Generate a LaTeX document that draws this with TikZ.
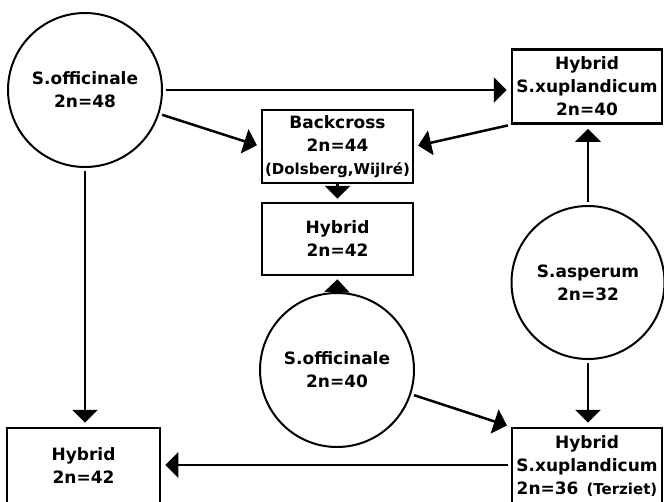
\documentclass[tikz,border=0pt]{standalone}
\usepackage{fontspec}
\setmainfont{DejaVu Sans}
\usetikzlibrary{arrows.meta}
\begin{document}
\begin{tikzpicture}[x=1pt,y=-1pt,
  lbl/.style={font=\fontsize{17}{23}\selectfont\bfseries, align=center, inner sep=0pt},
  circ/.style={lbl, circle, draw, line width=2pt, minimum size=#1},
  boxn/.style={lbl, rectangle, draw, line width=2.5pt, minimum width=#1, minimum height=74pt},
  conn/.style={line width=2.5pt, -{Triangle[length=13pt,width=25pt]}, shorten <=3pt, shorten >=4pt}]
\useasboundingbox (0,0) rectangle (664,501);
\newcommand\smtxt[1]{{\fontsize{15}{15}\selectfont #1}}
% nodes
\node[circ=154pt] (A) at (85,90) {S.officinale\\2n=48};
\node[boxn=150pt] (H1) at (587,86.5) {Hybrid\\S.xuplandicum\\2n=40};
\node[boxn=151pt, minimum height=73pt] (B) at (337.5,146.5) {Backcross\\2n=44\\\smtxt{(Dolsberg,Wijlré)}};
\node[boxn=151pt, minimum height=72pt] (H42) at (337.5,239) {Hybrid\\2n=42};
\node[circ=154pt] (C) at (337,370) {S.officinale\\2n=40};
\node[circ=153pt] (D) at (588,282.5) {S.asperum\\2n=32};
\node[boxn=153pt, minimum height=76pt] (H3) at (83.5,466) {Hybrid\\2n=42};
\node[boxn=150pt, minimum height=76pt] (H2) at (587,466) {Hybrid\\S.xuplandicum\\2n=36\hspace{8pt}\smtxt{(Terziet)}};
% connectors
\draw[conn] (A.east) -- (A.east -| H1.west);
\draw[conn] (A) -- (B.west);
\draw[conn] (H1.south west) -- (B.east);
\draw[conn, shorten <=0pt, shorten >=3pt] (B.south) -- (H42.north);
\draw[conn, shorten <=0pt, shorten >=3pt] (C.north) -- (H42.south);
\draw[conn] (D.north) -- (D.north |- H1.south);
\draw[conn] (D.south) -- (D.south |- H2.north);
\draw[conn] (C) -- (H2.north west);
\draw[conn] (A.south) -- (A.south |- H3.north);
\draw[conn] (H2.west |- 0,465) -- (H3.east |- 0,465);
\end{tikzpicture}
\end{document}
